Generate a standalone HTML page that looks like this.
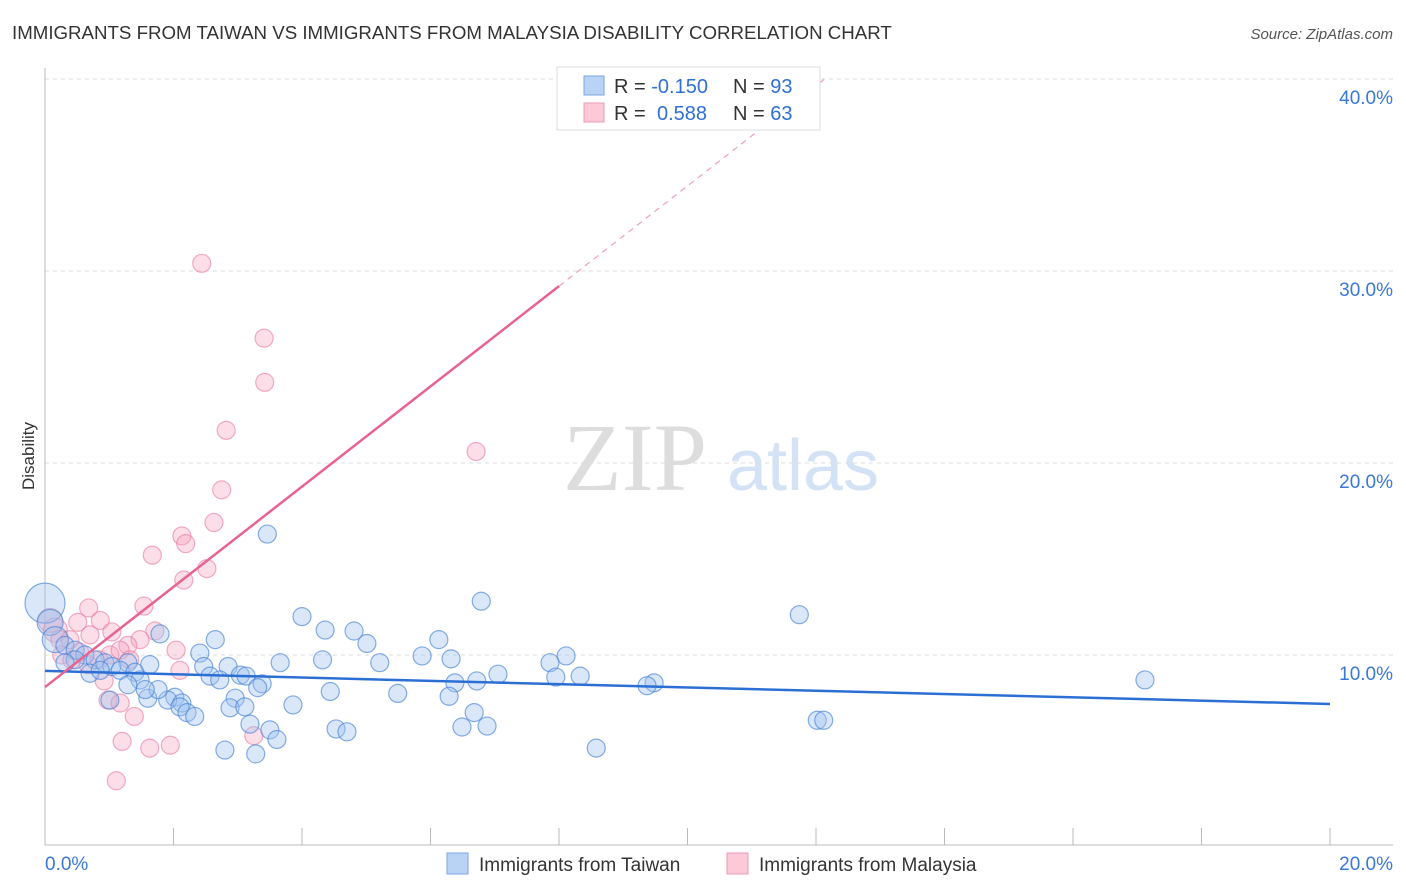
<!DOCTYPE html>
<html><head><meta charset="utf-8"><style>
body{margin:0;background:#fff;font-family:"Liberation Sans",sans-serif}
svg{display:block}
</style></head><body>
<svg id="c" width="1406" height="892" xmlns="http://www.w3.org/2000/svg">
<text x="12" y="39" font-size="18.7" fill="#333">IMMIGRANTS FROM TAIWAN VS IMMIGRANTS FROM MALAYSIA DISABILITY CORRELATION CHART</text>
<text x="1393" y="39" font-size="15" fill="#555" font-style="italic" text-anchor="end">Source: ZipAtlas.com</text>
<text x="34" y="456" font-size="17" fill="#333" transform="rotate(-90 34 456)" text-anchor="middle">Disability</text>
<g>
<text x="635" y="490" font-size="96" font-family="Liberation Serif,serif" fill="#ddd" text-anchor="middle">ZIP</text>
<text x="803" y="490" font-size="72" fill="#d3e2f5" text-anchor="middle">atlas</text>
</g>
<g id="grid"></g><g id="axes"></g><g id="pts"></g><g id="trend"></g>
<g>
<rect x="557" y="67" width="263" height="63" fill="#fff" stroke="#ddd"/>
<rect x="584" y="76" width="20" height="19" fill="#b9d3f5" stroke="#7aa5e0"/>
<rect x="584" y="103" width="20" height="19" fill="#fbc9d8" stroke="#ee9ab5"/>
<text x="614" y="93" font-size="20" fill="#333">R = <tspan fill="#2f6fd6">-0.150</tspan></text>
<text x="733" y="93" font-size="20" fill="#333">N = <tspan fill="#2f6fd6">93</tspan></text>
<text x="614" y="120" font-size="20" fill="#333">R = <tspan fill="#2f6fd6" x="657">0.588</tspan></text>
<text x="733" y="120" font-size="20" fill="#333">N = <tspan fill="#2f6fd6">63</tspan></text>
</g>
<g>
<rect x="447" y="853" width="21" height="21" fill="#b9d3f5" stroke="#7aa5e0"/>
<text x="479" y="871" font-size="19" fill="#333">Immigrants from Taiwan</text>
<rect x="727" y="853" width="21" height="21" fill="#fbc9d8" stroke="#ee9ab5"/>
<text x="759" y="871" font-size="19" fill="#333">Immigrants from Malaysia</text>
</g>
</svg>
<script>
const yTicks=[10,20,30,40];
const yTickLabels=["10.0%","20.0%","30.0%","40.0%"];
const xTickLabels=["0.0%","20.0%"];
const taiwanX=[3.46,6.79,11.74,4.0,4.36,4.81,1.79,2.65,5.01,6.13,2.41,5.87,6.32,8.11,7.86,4.32,5.21,3.66,2.47,2.85,1.29,7.05,8.33,7.95,17.12,9.48,9.37,6.38,6.72,2.57,3.04,3.13,3.38,3.31,2.72,4.44,5.49,6.29,2.96,2.02,1.6,1.91,2.13,3.86,2.88,3.11,2.1,2.21,2.33,6.68,3.19,3.5,4.53,4.7,6.49,6.88,12.02,12.12,3.61,2.8,3.28,8.58,0,0.08,0.16,0.31,0.47,0.62,0.78,0.93,1.04,1.17,1.4,0.7,0.86,1.48,1.76,1.56,1.29,1.01,0.47,0.31,1.63];
const taiwanY=[16.3,12.8,12.1,12.0,11.3,11.25,11.1,10.8,10.6,10.8,10.1,9.95,9.8,9.95,9.6,9.75,9.6,9.6,9.4,9.4,9.6,9.0,8.9,8.85,8.7,8.55,8.4,8.55,8.65,8.9,8.95,8.9,8.5,8.3,8.7,8.1,8.0,7.85,7.75,7.8,7.75,7.65,7.5,7.4,7.25,7.3,7.3,7.0,6.8,7.0,6.4,6.1,6.15,6.0,6.25,6.3,6.6,6.6,5.6,5.05,4.85,5.15,12.7,11.7,10.8,10.5,10.25,10.0,9.75,9.6,9.4,9.2,9.1,9.05,9.2,8.7,8.2,8.2,8.45,7.65,9.75,9.6,9.5];
const malaysiaX=[2.44,3.41,3.42,2.82,6.71,2.75,2.63,2.13,2.19,1.67,2.52,2.16,1.54,0.68,0.86,0.51,1.04,1.71,0.7,1.48,1.29,2.04,1.01,0.84,2.1,0.92,0.98,1.17,1.39,1.2,1.63,1.95,3.25,1.11,0.08,0.16,0.23,0.39,0.26,0.42,0.54,0.67,1.17,1.32];
const malaysiaY=[30.4,26.5,24.2,21.7,20.6,18.6,16.9,16.2,15.8,15.2,14.5,13.9,12.55,12.45,11.8,11.7,11.2,11.25,11.05,10.8,10.5,10.25,10.0,9.75,9.2,8.65,7.65,7.5,6.8,5.5,5.15,5.3,5.8,3.45,11.8,11.3,10.8,10.8,10.0,9.75,10.15,9.5,10.25,9.75];
const taiwanTrend=[9.17,7.45];
const malaysiaTrend=[8.33,2.61];
const NS="http://www.w3.org/2000/svg";
const X=v=>45+v*64.25, Y=v=>847-v*19.2;
function mk(t,a,p){const e=document.createElementNS(NS,t);for(const k in a)e.setAttribute(k,a[k]);document.getElementById(p).appendChild(e);return e;}
yTicks.forEach((t,i)=>{
 const l=mk('line',{x1:45,x2:1393,y1:Y(t),y2:Y(t),stroke:'#ddd','stroke-dasharray':'4,4'},'grid');
 
 
 const tx=mk('text',{x:1393,y:Y(t)+25,'font-size':19,fill:'#3a78d8','text-anchor':'end'},'grid');
 tx.textContent=yTickLabels[i];
 
 
});
const ax=mk('line',{x1:45,x2:45,y1:68,y2:845,stroke:'#bbb'},'axes');


const bx=mk('line',{x1:45,x2:1393,y1:845,y2:845,stroke:'#bbb'},'axes');


for(let v=2;v<=20;v+=2){const t=mk('line',{x1:X(v),x2:X(v),y1:828,y2:845,stroke:'#bbb'},'axes');
 
 }
[[0,45,'start'],[20,1393,'end']].forEach((d,i)=>{const t=mk('text',{x:d[1],y:870,'font-size':19,fill:'#3a78d8','text-anchor':d[2]},'axes');t.textContent=xTickLabels[i];
 
 });
malaysiaX.forEach((x,i)=>{const r=(x<0.3&&malaysiaY[i]>11)?12:9;
 const c=mk('circle',{cx:X(x),cy:Y(malaysiaY[i]),r:r,fill:'rgba(246,160,188,0.35)',stroke:'rgba(232,120,156,0.6)','stroke-width':1.2},'pts');
 
 });
taiwanX.forEach((x,i)=>{const r=(x===0)?20:(x<0.2?13:9);
 const c=mk('circle',{cx:X(x),cy:Y(taiwanY[i]),r:r,fill:'rgba(160,196,240,0.4)',stroke:'rgba(70,130,215,0.65)','stroke-width':1.2},'pts');
 
 });
const tl=mk('line',{x1:X(0),y1:Y(taiwanTrend[0]),x2:X(20),y2:Y(taiwanTrend[1]),stroke:'#2c6fd4','stroke-width':2.5},'trend');


const xs=8.0, xe=(40-malaysiaTrend[0])/malaysiaTrend[1];
const ml=mk('line',{x1:X(0),y1:Y(malaysiaTrend[0]),x2:X(xs),y2:Y(malaysiaTrend[0]+malaysiaTrend[1]*xs),stroke:'#e8638e','stroke-width':2.5},'trend');


const md=mk('line',{x1:X(xs),y1:Y(malaysiaTrend[0]+malaysiaTrend[1]*xs),x2:X(xe),y2:Y(40),stroke:'#eea0b8','stroke-width':1.2,'stroke-dasharray':'6,5'},'trend');


</script>
</body></html>
